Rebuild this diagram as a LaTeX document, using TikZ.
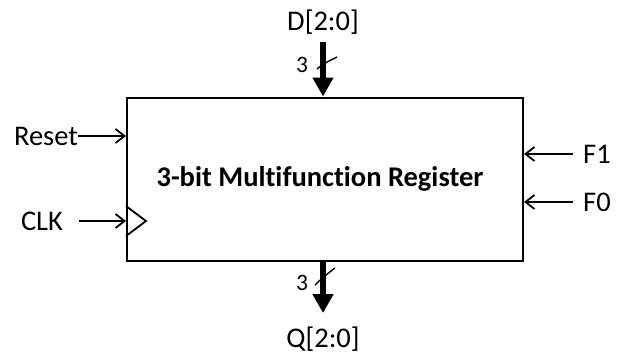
\documentclass[tikz,border=0pt]{standalone}
\usepackage{fontspec}
\setmainfont{Carlito}[Ligatures=NoCommon]
\usetikzlibrary{arrows.meta,positioning,calc}
\definecolor{ink}{HTML}{000000}
\tikzset{
  regbox/.style={draw=ink, line width=2pt, fill=white, align=center, font=\fontsize{28.5}{32}\selectfont\bfseries},
  pin/.style={font=\fontsize{28.5}{32}\selectfont, text=ink, inner sep=0pt},
  buslabel/.style={pin, font=\fontsize{23.5}{27}\selectfont},
  sig/.style={-{Straight Barb[length=9pt,width=14pt]}, line width=1.8pt, draw=ink},
  bus/.style={-{Triangle[length=19pt,width=20pt]}, line width=5.5pt, draw=ink},
  slash/.style={line width=1.4pt, draw=ink}
}

\begin{document}
\begin{tikzpicture}[x=1pt,y=-1pt]
\useasboundingbox (0,0) rectangle (623,354);
\node[regbox, minimum width=396pt, minimum height=163pt] (reg) at (325,179) {};
\node[regbox, draw=none, fill=none, inner sep=0pt] (ttl) at (320,179) {3-bit Multifunction Register};
% data in / out
\node[pin] (din) at (323,22) {D[2:0]};
\node[pin] (qout) at (323,339) {Q[2:0]};
\coordinate (dtop) at (323,42);
\coordinate (qbot) at (323,313);
\draw[bus] (dtop) -- (dtop |- reg.north);
\draw[bus] (dtop |- reg.south) -- (qbot);
\draw[slash] (317,69) .. controls (324,63) and (329,61) .. (337,57);
\node[buslabel] (nd) at (302,65) {3};
\draw[slash] (315,285) .. controls (321,279) and (327,274) .. (335,268);
\node[buslabel] (nq) at (302,283) {3};
% control inputs
\node[pin] (rst) at (46,136) {Reset};
\draw[sig] (rst.east) -- (rst.east -| reg.west);
\node[pin] (clk) at (42,221) {CLK};
\draw[sig] ([xshift=16pt]clk.east) -- (clk.east -| reg.west);
\draw[line width=1.8pt, draw=ink] ($(reg.west |- clk)+(0,-15)$) -- ($(reg.west |- clk)+(20,0)$) -- ($(reg.west |- clk)+(0,15)$);
\node[pin] (f1) at (597,154) {F1};
\node[pin] (f0) at (597,202) {F0};
\draw[sig] ([xshift=-10pt]f1.west) -- (f1.west -| reg.east);
\draw[sig] ([xshift=-10pt]f0.west) -- (f0.west -| reg.east);
\end{tikzpicture}
\end{document}
